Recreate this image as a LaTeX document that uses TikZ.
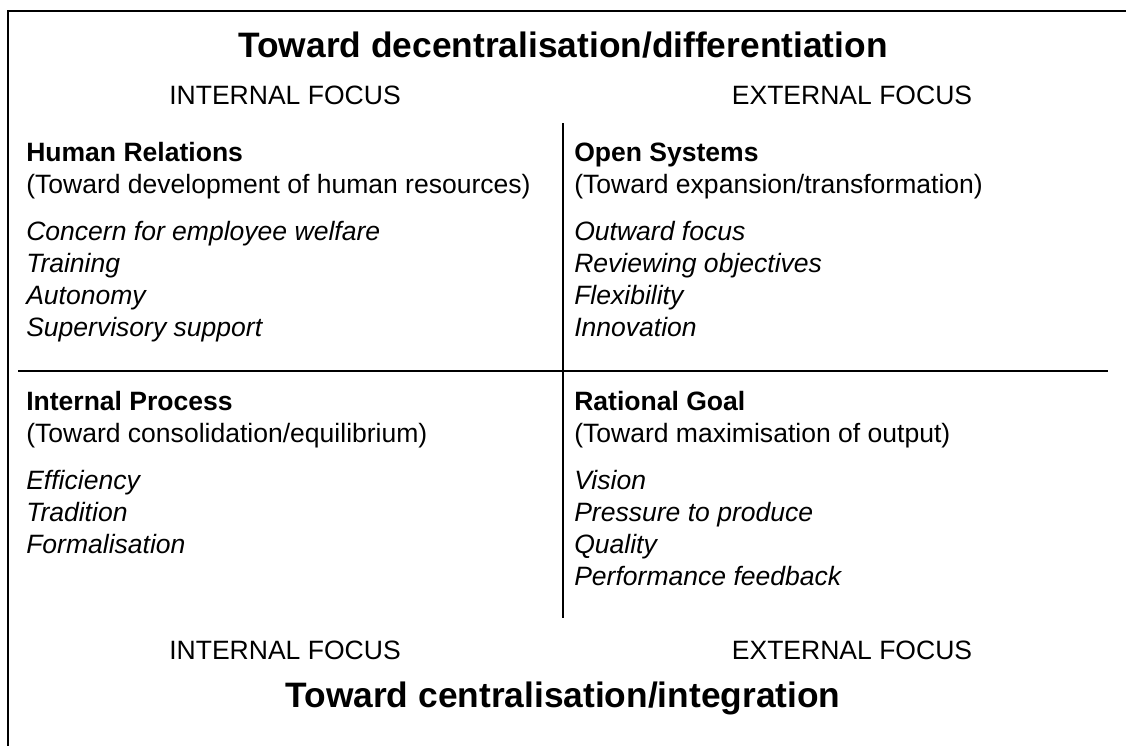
\documentclass[tikz,border=0pt]{standalone}
\usepackage{fontspec}
\setmainfont{Liberation Sans}
\usetikzlibrary{positioning}

\begin{document}
\begin{tikzpicture}[x=0.75pt,y=0.75pt,yscale=-1,xscale=1,
  rule/.style={line width=1.5pt},
  bigtitle/.style={anchor=base, inner sep=0pt, font=\fontsize{26.5}{32}\selectfont\bfseries},
  focus/.style={anchor=base, inner sep=0pt, font=\fontsize{19.9}{24}\selectfont},
  quad/.style={anchor=north west, inner sep=0pt, align=left, font=\fontsize{19.9}{24}\selectfont}]
\useasboundingbox (0,0) rectangle (1126,746);

%frame (top and left only)
\draw [rule]   (1126,11) -- (8,11) -- (8,746) ;
%dividers
\draw [rule]   (563,123) -- (563,618) ;
\draw [rule]   (18,370.5) -- (1108,370.5) ;

% titles
\node [bigtitle] (toptitle) at (563,57.6) {Toward decentralisation/differentiation};
\node [bigtitle] (bottitle) at (563,707.6) {Toward centralisation/integration};

% focus labels
\node [focus] (intop) at (285,104.5) {INTERNAL FOCUS};
\node [focus] (extop) at (852,104.5) {EXTERNAL FOCUS};
\node [focus] (inbot) at (285,659.5) {INTERNAL FOCUS};
\node [focus] (exbot) at (852,659.5) {EXTERNAL FOCUS};

% quadrants
\node [quad] (hr) at (26,142.5) {\textbf{Human Relations}\\
  (Toward development of human resources)\\[11.25pt]
  \textit{Concern for employee welfare}\\
  \textit{Training}\\
  \textit{Autonomy}\\
  \textit{Supervisory support}};
\node [quad] (os) at (574,142.5) {\textbf{Open Systems}\\
  (Toward expansion/transformation)\\[11.25pt]
  \textit{Outward focus}\\
  \textit{Reviewing objectives}\\
  \textit{Flexibility}\\
  \textit{Innovation}};
\node [quad] (ip) at (26,390.5) {\textbf{Internal Process}\\
  (Toward consolidation/equilibrium)\\[11.25pt]
  \textit{Efficiency}\\
  \textit{Tradition}\\
  \textit{Formalisation}};
\node [quad] (rg) at (574,390.5) {\textbf{Rational Goal}\\
  (Toward maximisation of output)\\[11.25pt]
  \textit{Vision}\\
  \textit{Pressure to produce}\\
  \textit{Quality}\\
  \textit{Performance feedback}};

\end{tikzpicture}
\end{document}
